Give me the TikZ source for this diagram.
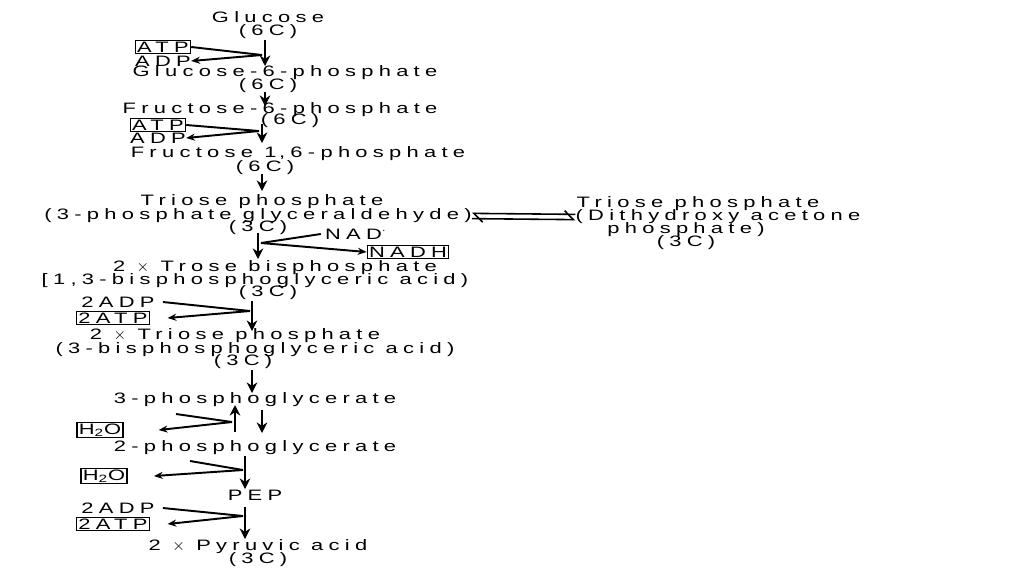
\documentclass[tikz,border=0pt]{standalone}
\usepackage{fontspec}
\setmainfont[LetterSpace=35,FakeStretch=1.45]{Liberation Sans}
\usetikzlibrary{arrows.meta}
\begin{document}
\begin{tikzpicture}[x=0.02cm,y=-0.02cm,
    lbl/.style={inner sep=0pt,font=\fontsize{8.6}{9}\selectfont},
    boxed/.style={lbl,draw,thick,inner xsep=1pt,inner ysep=0.6pt},
    main/.style={line width=1.6pt,-{Stealth[length=6pt,width=6pt]}},
    side/.style={line width=1.1pt,-{Stealth[length=5pt,width=4pt]}}]
    \useasboundingbox (0,0) rectangle (1024,576);

    % Glucose
    \node[lbl] (glc) at (268,17) {Glucose};
    \node[lbl] (glcc) at (268,32) {(6C)};
    \node[boxed] (atpa) at (163,47) {ATP};
    \node[lbl] (adpa) at (163,61) {ADP};
    \coordinate (sa) at (265,40); \coordinate (ea) at (265,66);
    \draw[main] (sa) -- (ea);
    \coordinate (ma) at (262,55);
    \draw[line width=1.1pt] (atpa.east) -- (ma);
    \draw[side] (ma) -- (adpa.east);

    % Glucose-6-phosphate
    \node[lbl] (g6p) at (285,73) {Glucose-6-phosphate};
    \node[lbl] (g6pc) at (268,86) {(6C)};
    \coordinate (sb) at (265,92); \coordinate (eb) at (265,106);
    \draw[main] (sb) -- (eb);

    % Fructose-6-phosphate
    \node[lbl] (f6p) at (280,110) {Fructose-6-phosphate};
    \node[lbl] (f6pc) at (290,121) {(6C)};
    \node[boxed] (atpb) at (158,125) {ATP};
    \node[lbl] (adpb) at (158,138) {ADP};
    \coordinate (sc) at (262,124); \coordinate (ec) at (262,143);
    \draw[main] (sc) -- (ec);
    \coordinate (mc) at (259,131);
    \draw[line width=1.1pt] (atpb.east) -- (mc);
    \draw[side] (mc) -- (adpb.east);

    % Fructose 1,6-phosphate
    \node[lbl] (fbp) at (298,154) {Fructose 1\,,6-phosphate};
    \node[lbl] (fbpc) at (265,168) {(6C)};
    \coordinate (sd) at (262,174); \coordinate (ed) at (262,191);
    \draw[main] (sd) -- (ed);

    % Triose phosphate
    \node[lbl] (tp) at (262,202) {Triose phosphate};
    \node[lbl] (gap) at (258,216) {(3-phosphate glyceraldehyde)};
    \node[lbl] (gapc) at (258,228) {(3C)};
    \node[lbl] (tpr) at (698,204) {Triose phosphate};
    \node[lbl] (dhap) at (718,217) {(Dithydroxy acetone};
    \node[lbl] (dhapb) at (686,230) {phosphate)};
    \node[lbl] (dhapc) at (686,243) {(3C)};
    \draw[line width=0.9pt,-{Straight Barb[left,length=5pt]}] ([yshift=-1.5pt]gap.east) -- ([yshift=-1.5pt]dhap.west);
    \draw[line width=0.9pt,-{Straight Barb[left,length=5pt]}] ([yshift=1.5pt]dhap.west) -- ([yshift=1.5pt]gap.east);

    \node[lbl] (nad) at (356,234) {NAD$^{\cdot}$};
    \node[boxed] (nadh) at (408,252) {NADH};
    \coordinate (se) at (258,233); \coordinate (ee) at (258,259);
    \draw[main] (se) -- (ee);
    \coordinate (me) at (261,243);
    \draw[line width=1.1pt] (nad.west) ++(-4,0) -- (me);
    \draw[side] (me) -- (nadh.west);

    % 2 x Trose bisphosphate
    \node[lbl] (tbp) at (275,268) {2 $\times$ Trose bisphosphate};
    \node[lbl] (bpg) at (255,281) {[1,3-bisphosphoglyceric acid)};
    \node[lbl] (bpgc) at (268,293) {(3C)};
    \node[lbl] (adpc) at (118,302) {2ADP};
    \node[boxed] (atpc) at (113,318) {2ATP};
    \coordinate (sf) at (252,301); \coordinate (ef) at (252,331);
    \draw[main] (sf) -- (ef);
    \coordinate (mf) at (250,311);
    \draw[line width=1.1pt] (adpc.east) ++(8,0) -- (mf);
    \draw[side] (mf) -- ([xshift=10pt]atpc.east);

    % 2 x Triose phosphate
    \node[lbl] (tp2) at (235,336) {2 $\times$ Triose phosphate};
    \node[lbl] (pga) at (255,350) {(3-bisphosphoglyceric acid)};
    \node[lbl] (pgac) at (243,362) {(3C)};
    \coordinate (sg) at (252,370); \coordinate (eg) at (252,393);
    \draw[main] (sg) -- (eg);

    % 3-phosphoglycerate
    \node[lbl] (pg3) at (255,400) {3-phosphoglycerate};
    \node[boxed] (h2oa) at (100,430) {H\textsubscript{2}O};
    \coordinate (sh) at (235,432); \coordinate (eh) at (235,405);
    \draw[main] (sh) -- (eh);
    \coordinate (si) at (262,410); \coordinate (ei) at (262,433);
    \draw[main] (si) -- (ei);
    \coordinate (hh) at (176,414); \coordinate (mh) at (232,422);
    \draw[line width=1.1pt] (hh) -- (mh);
    \draw[side] (mh) -- ([xshift=20pt]h2oa.east);

    % 2-phosphoglycerate
    \node[lbl] (pg2) at (255,448) {2-phosphoglycerate};
    \node[boxed] (h2ob) at (104,476) {H\textsubscript{2}O};
    \coordinate (sj) at (245,456); \coordinate (ej) at (245,489);
    \draw[main] (sj) -- (ej);
    \coordinate (hj) at (190,461); \coordinate (mj) at (243,470);
    \draw[line width=1.1pt] (hj) -- (mj);
    \draw[side] (mj) -- ([xshift=15pt]h2ob.east);

    % PEP
    \node[lbl] (pep) at (255,495) {PEP};
    \node[lbl] (adpd) at (118,508) {2ADP};
    \node[boxed] (atpd) at (113,524) {2ATP};
    \coordinate (sk) at (245,507); \coordinate (ek) at (245,539);
    \draw[main] (sk) -- (ek);
    \coordinate (mk) at (243,516);
    \draw[line width=1.1pt] (adpd.east) ++(8,0) -- (mk);
    \draw[side] (mk) -- ([xshift=10pt]atpd.east);

    % Pyruvic acid
    \node[lbl] (pyr) at (258,547) {2 $\times$ Pyruvic acid};
    \node[lbl] (pyrc) at (258,560) {(3C)};
\end{tikzpicture}
\end{document}
